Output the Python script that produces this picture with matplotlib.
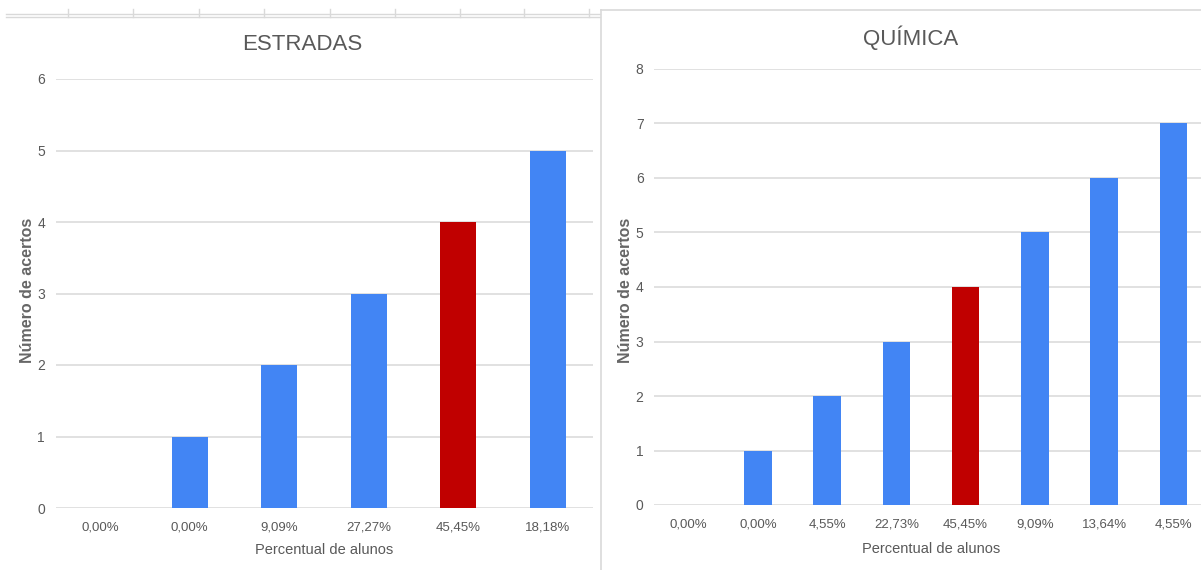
import matplotlib
matplotlib.use("Agg")
import matplotlib.pyplot as plt
from matplotlib.lines import Line2D
import matplotlib.transforms as mtransforms

# ---- data ----
est_labels = ["0,00%", "0,00%", "9,09%", "27,27%", "45,45%", "18,18%"]
est_values = [0, 1, 2, 3, 4, 5]
est_highlight = 4

qui_labels = ["0,00%", "0,00%", "4,55%", "22,73%", "45,45%", "9,09%", "13,64%", "4,55%"]
qui_values = [0, 1, 2, 3, 4, 5, 6, 7]
qui_highlight = 4

titles = ["ESTRADAS", "QUÍMICA"]
xlabel = "Percentual de alunos"
ylabel = "Número de acertos"

BLUE = "#4285F4"
RED = "#C00000"
TXT = "#595959"
GRID = "#dedede"
FAM = ["Liberation Sans", "DejaVu Sans"]

W, H = 1201, 570
fig = plt.figure(figsize=(W / 100, H / 100), dpi=100)
fig.patch.set_facecolor("white")


def fx(px):
    return px / W


def fy(py):
    return 1 - py / H


def panel(rect, labels, values, hi, ymax, title, title_xy, ylab_x, xlab_y, tick_pad):
    x0, x1, ytop, ybot = rect
    ax = fig.add_axes([fx(x0), fy(ybot), fx(x1 - x0), (ybot - ytop) / H])
    xs = list(range(len(labels)))
    colors = [RED if i == hi else BLUE for i in xs]
    ax.bar(xs, values, width=0.4, color=colors, zorder=3)
    ax.set_xlim(-0.5, len(labels) - 0.5)
    ax.set_ylim(0, ymax)
    ax.set_yticks(range(0, ymax + 1))
    ax.set_xticks(xs)
    ax.set_xticklabels(labels, family=FAM, fontsize=9.5, color=TXT)
    for t in ax.get_yticklabels():
        t.set_family(FAM)
        t.set_fontsize(10)
        t.set_color(TXT)
    ax.tick_params(axis="x", length=0, pad=tick_pad)
    ax.tick_params(axis="y", length=0, pad=7.5)
    ax.grid(axis="y", color=GRID, linewidth=1.3, zorder=0)
    for s in ax.spines.values():
        s.set_visible(False)
    ax.set_xlabel(xlabel, family=FAM, fontsize=10.5, color=TXT, va="center")
    ax.xaxis.set_label_coords(0.5, fy(xlab_y), transform=fig.transFigure)
    ax.xaxis.label.set_transform(
        mtransforms.blended_transform_factory(ax.transAxes, fig.transFigure))
    ax.set_ylabel(ylabel, family=FAM, fontsize=11.5, color="#666666",
                  fontweight="bold", va="center")
    ax.yaxis.set_label_coords(fx(ylab_x), fy(290), transform=fig.transFigure)
    fig.text(fx(title_xy[0]), fy(title_xy[1]), title, family=FAM, fontsize=16,
             color=TXT, ha="center", va="center")
    return ax


panel((55.5, 592.5, 79, 508), est_labels, est_values, est_highlight, 6,
      titles[0], (302, 44), 28, 550, 9.5)
panel((654, 1208, 69, 505), qui_labels, qui_values, qui_highlight, 8,
      titles[1], (911, 38), 625, 549, 9.5)

# spreadsheet-like frame lines from the screenshot
lc = "#d9d9d9"
fig.add_artist(Line2D([fx(6), fx(600)], [fy(14), fy(14)], color=lc, lw=1))
fig.add_artist(Line2D([fx(6), fx(600)], [fy(17), fy(17)], color=lc, lw=1))
for xv in [68, 133, 199, 264, 330, 395, 460, 524, 589]:
    fig.add_artist(Line2D([fx(xv), fx(xv)], [fy(9), fy(17)], color=lc, lw=1))
fig.add_artist(Line2D([fx(601), fx(601)], [fy(10), fy(570)], color=lc, lw=1.2))
fig.add_artist(Line2D([fx(601), fx(1201)], [fy(10), fy(10)], color=lc, lw=1.2))

fig.savefig("out.png", dpi=100)
